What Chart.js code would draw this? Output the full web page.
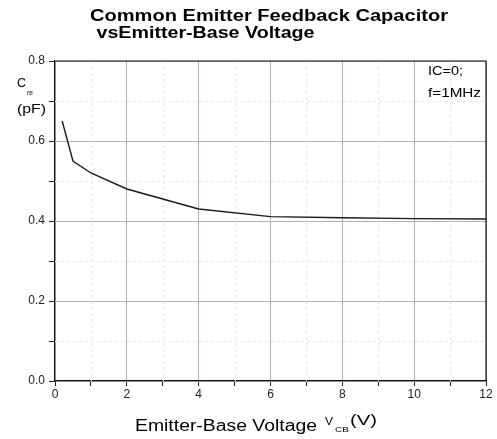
<!DOCTYPE html>
<html>
<head>
<meta charset="utf-8">
<script src="https://cdn.jsdelivr.net/npm/chart.js@4/dist/chart.umd.min.js"></script>
<style>
body{margin:0;background:#fff;}
#wrap{width:497px;height:439px;}
</style>
</head>
<body>
<div id="wrap"><canvas id="chart" width="497" height="439"></canvas></div>
<script>
'use strict';

var voltage = [0.2, 0.5, 1, 2, 4, 6, 8, 10, 12];
var capacitance = [0.65, 0.55, 0.52, 0.48, 0.43, 0.411, 0.408, 0.406, 0.405];
var xLabels = [0, 2, 4, 6, 8, 10, 12];
var yLabels = [0.0, 0.2, 0.4, 0.6, 0.8];

function isMajor(list, v){
  return list.some(function(m){ return Math.abs(m - v) < 1e-6; });
}

// stretched text, the scan is wider than normal arial
function txt(ctx, s, x, y, size, bold, w){
  ctx.save();
  ctx.font = (bold ? 'bold ' : '') + size + 'px "Liberation Sans", Arial, sans-serif';
  var m = ctx.measureText(s).width;
  ctx.translate(x, y);
  ctx.scale(w / m, 1);
  ctx.textAlign = 'left';
  ctx.textBaseline = 'alphabetic';
  ctx.fillStyle = '#000';
  ctx.fillText(s, 0, 0);
  ctx.restore();
}

var minorGrid = {
  id: 'minorGrid',
  beforeDatasetsDraw: function(chart){
    var ctx = chart.ctx, a = chart.chartArea;
    var xs = chart.scales.x, ys = chart.scales.y;
    ctx.save();
    ctx.strokeStyle = '#e3eae3';
    ctx.lineWidth = 1;
    ctx.setLineDash([3, 3]);
    xs.ticks.forEach(function(t){
      if(isMajor(xLabels, t.value)) return;
      var p = Math.round(xs.getPixelForValue(t.value)) + 0.5;
      ctx.beginPath(); ctx.moveTo(p, a.top); ctx.lineTo(p, a.bottom); ctx.stroke();
    });
    ys.ticks.forEach(function(t){
      if(isMajor(yLabels, t.value)) return;
      var p = Math.round(ys.getPixelForValue(t.value)) + 0.5;
      ctx.beginPath(); ctx.moveTo(a.left, p); ctx.lineTo(a.right, p); ctx.stroke();
    });
    ctx.restore();
  }
};

var frameAndText = {
  id: 'frameAndText',
  afterDraw: function(chart){
    var ctx = chart.ctx, a = chart.chartArea;
    ctx.save();
    ctx.strokeStyle = '#111';
    ctx.lineWidth = 1.2;
    ctx.beginPath();
    ctx.moveTo(a.left, a.top);
    ctx.lineTo(a.right, a.top);
    ctx.lineTo(a.right, a.bottom);
    ctx.stroke();
    ctx.restore();

    txt(ctx, 'Common Emitter Feedback Capacitor', 90, 20.5, 16, true, 358);
    txt(ctx, 'vsEmitter-Base Voltage', 96.5, 37.5, 16, true, 218);

    txt(ctx, 'C', 17, 87, 12, false, 9);
    txt(ctx, 're', 27, 95, 7, false, 6);
    txt(ctx, '(pF)', 17, 113, 12.5, false, 29);

    txt(ctx, 'IC=0;', 428, 75, 13, false, 35);
    txt(ctx, 'f=1MHz', 428, 97, 13, false, 53);

    txt(ctx, 'Emitter-Base Voltage', 135, 431, 16, false, 182);
    txt(ctx, 'V', 325, 425, 11, false, 8);
    txt(ctx, 'CB', 335, 432, 8, false, 14);
    txt(ctx, '(V)', 350, 425, 14, false, 27);
  }
};

var ctx = document.getElementById('chart').getContext('2d');
var chart = new Chart(ctx, {
  type: 'scatter',
  data: {
    datasets: [{
      data: voltage.map(function(v, i){ return {x: v, y: capacitance[i]}; }),
      showLine: true,
      borderColor: '#1a1a1a',
      borderWidth: 1.4,
      pointRadius: 0,
      tension: 0,
      fill: false
    }]
  },
  options: {
    responsive: false,
    animation: false,
    layout: { padding: { top: 61, right: 11, left: 0, bottom: 0 } },
    plugins: { legend: { display: false }, tooltip: { enabled: false } },
    scales: {
      x: {
        type: 'linear',
        min: 0, max: 12,
        afterFit: function(s){ s.height = 58; },
        ticks: {
          stepSize: 1,
          maxRotation: 0,
          autoSkip: false,
          padding: 1,
          color: '#222',
          font: { family: '"Liberation Sans", Arial', size: 12 },
          callback: function(v){ return isMajor(xLabels, v) ? String(v) : ''; }
        },
        grid: {
          color: function(c){ return isMajor(xLabels, c.tick.value) ? '#b0b0c2' : 'rgba(0,0,0,0)'; },
          tickColor: '#222',
          tickLength: 5,
          lineWidth: 1
        },
        border: { color: '#111', width: 1.2 }
      },
      y: {
        type: 'linear',
        min: 0, max: 0.8,
        afterFit: function(s){ s.width = 55; },
        ticks: {
          stepSize: 0.1,
          autoSkip: false,
          padding: 4,
          color: '#222',
          font: { family: '"Liberation Sans", Arial', size: 12 },
          callback: function(v){ return isMajor(yLabels, v) ? v.toFixed(1) : ''; }
        },
        grid: {
          color: function(c){ return isMajor(yLabels, c.tick.value) ? '#b0b0c2' : 'rgba(0,0,0,0)'; },
          tickColor: '#222',
          tickLength: 6,
          lineWidth: 1
        },
        border: { color: '#111', width: 1.2 }
      }
    }
  },
  plugins: [minorGrid, frameAndText]
});
</script>
</body>
</html>
